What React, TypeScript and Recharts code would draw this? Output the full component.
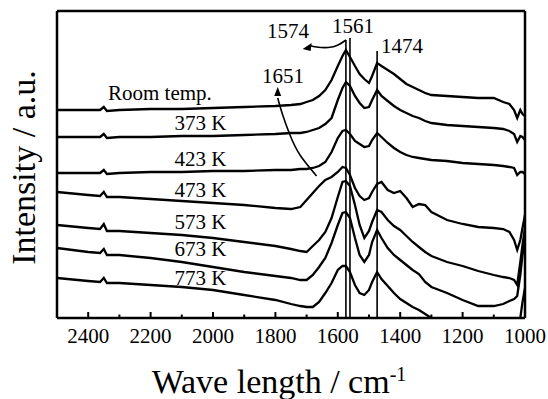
import React from 'react';
import { LineChart, Line, XAxis, YAxis, ReferenceLine, ReferenceDot } from 'recharts';

// Wavenumber grid (cm-1)
const wavenumbers = [2500, 2400, 2362, 2350, 2340, 2300, 2200, 2100, 2000, 1900, 1800, 1750, 1720, 1700, 1680, 1660, 1640, 1620, 1600, 1585, 1574, 1561, 1545, 1530, 1515, 1500, 1490, 1474, 1460, 1440, 1420, 1400, 1380, 1360, 1340, 1320, 1300, 1250, 1200, 1150, 1100, 1070, 1050, 1035, 1025, 1015, 1008, 1000];

// Offset intensities (a.u.)
const roomTemp = [208, 208, 208, 211, 207, 208, 209, 209, 210, 211, 212, 213, 214, 216, 218, 222, 228, 238, 252, 262, 268, 261, 252, 244, 239, 235, 242, 255, 252, 248, 244, 239, 234, 231, 228, 225, 223, 222, 221, 220, 220, 216, 214, 208, 200, 208, 204, 202];
const k373 = [181, 181, 181, 184, 180, 181, 181, 182, 182, 183, 184, 185, 185, 186, 188, 190, 194, 200, 218, 230, 236, 232, 222, 215, 210, 211, 218, 228, 222, 217, 212, 208, 205, 202, 200, 197, 195, 193, 192, 191, 190, 189, 187, 184, 176, 182, 181, 178];
const k423 = [145, 145, 145, 148, 144, 145, 146, 146, 147, 147, 148, 148, 149, 149, 150, 152, 156, 166, 180, 187, 188, 184, 177, 174, 171, 172, 178, 185, 181, 175, 170, 166, 163, 161, 160, 159, 158, 157, 155, 154, 153, 152, 151, 150, 143, 146, 146, 144];
const k473 = [126, 123, 122, 126, 121, 121, 119, 117, 115, 113, 110, 109, 111, 118, 125, 132, 138, 141, 146, 151, 150, 143, 130, 122, 118, 120, 126, 134, 136, 128, 125, 127, 120, 111, 114, 113, 106, 98, 94, 91, 90, 89, 86, 78, 68, 78, 90, 103];
const k573 = [93, 90, 89, 94, 87, 87, 85, 83, 80, 76, 72, 69, 67, 66, 72, 78, 86, 100, 121, 136, 137, 132, 113, 93, 80, 87, 96, 108, 106, 98, 92, 88, 82, 76, 71, 66, 62, 56, 52, 47, 43, 41, 40, 38, 33, 56, 73, 90];
const k673 = [70, 66, 65, 69, 63, 63, 60, 56, 51, 46, 42, 40, 38, 38, 43, 51, 60, 75, 93, 105, 106, 100, 80, 63, 56, 63, 76, 88, 80, 70, 63, 58, 53, 48, 44, 36, 31, 25, 18, 12, 12, 14, 17, 19, 22, 43, 63, 78];
const k773 = [40, 37, 36, 40, 35, 35, 33, 31, 28, 23, 18, 14, 12, 11, 11, 16, 25, 35, 48, 52, 52, 46, 33, 25, 23, 28, 36, 46, 39, 32, 25, 19, 15, 11, 8, 4, 0, -8, -14, -18, -20, -20, -19, -17, -12, 0, 16, 30];

const seriesValues = [roomTemp, k373, k423, k473, k573, k673, k773];
const seriesNames = ['Room temp.', '373 K', '423 K', '473 K', '573 K', '673 K', '773 K'];

// Label anchor (wavenumber, intensity) for each series name
const seriesLabelWn = [2170, 2040, 2040, 2040, 2040, 2040, 2040];
const seriesLabelY = [218, 188, 152, 121, 89, 62, 33];

// Peak marker lines
const peakWn = [1574, 1561, 1474];
const peakTop = [278, 280, 267];
const peakLabels = ['1574', '1561', '1474', '1651'];
const peakLabelWn = [1760, 1551, 1394, 1776];
const peakLabelY = [280, 285, 265, 235];

// Arrow paths
const arrow1574 = [
  { wn: 1573.7, v: 278 },
  { wn: 1599, v: 273 },
  { wn: 1631, v: 270.5 },
  { wn: 1668, v: 271 },
  { wn: 1690, v: 272.5 },
];
const arrow1651 = [
  { wn: 1792.6, v: 220 },
  { wn: 1776.6, v: 203 },
  { wn: 1753.2, v: 183 },
  { wn: 1721.2, v: 163 },
  { wn: 1668, v: 142 },
];

const majorTicks = [2400, 2200, 2000, 1800, 1600, 1400, 1200, 1000];
const minorTicks = [2300, 2100, 1900, 1700, 1500, 1300, 1100];
const allTicks = [...majorTicks, ...minorTicks].sort((a, b) => b - a);

const data = wavenumbers.map((wn, i) => {
  const row: Record<string, number> = { wn };
  seriesValues.forEach((s, j) => {
    row['s' + j] = s[i];
  });
  return row;
});

const FONT = "'Liberation Serif', 'Times New Roman', serif";
const fontStyle = { fontFamily: FONT };

const AxisTick = (props: any) => {
  const { x, y, payload } = props;
  const major = majorTicks.includes(payload.value);
  return (
    <g>
      <line x1={x} x2={x} y1={y} y2={y - (major ? 6 : 3.5)} stroke="#000" strokeWidth={2} />
      {major && (
        <text x={x} y={y + 25} textAnchor="middle" fontFamily={FONT} style={fontStyle} fontSize={21} fill="#000">
          {payload.value}
        </text>
      )}
    </g>
  );
};

const textShape = (txt: string, size: number) => (p: any) => (
  <text x={p.cx} y={p.cy} textAnchor="middle" fontFamily={FONT} style={fontStyle} fontSize={size} fill="#000">
    {txt}
  </text>
);

const headUp = (p: any) => (
  <polygon points={`${p.cx},${p.cy - 5} ${p.cx - 3.5},${p.cy + 4} ${p.cx + 3.5},${p.cy + 4}`} fill="#000" />
);
const headLeft = (p: any) => (
  <polygon points={`${p.cx - 4},${p.cy + 3} ${p.cx + 5},${p.cy - 3} ${p.cx + 4},${p.cy + 5}`} fill="#000" />
);

const Titles = (props: any) => {
  const vb = props.viewBox || { x: 57, y: 318, width: 468, height: 30 };
  const cx = vb.x + vb.width / 2 - 12;
  const plotTop = 11;
  const cy = (plotTop + vb.y) / 2 + 3;
  return (
    <g>
      <text x={cx} y={393} textAnchor="middle" fontFamily={FONT} style={fontStyle} fontSize={34} fill="#000">
        Wave length / cm<tspan dy={-12} fontSize={20}>-1</tspan>
      </text>
      <text
        x={35}
        y={cy}
        transform={`rotate(-90, 35, ${cy})`}
        textAnchor="middle"
        fontFamily={FONT}
        style={fontStyle}
        fontSize={34}
        fill="#000"
      >
        Intensity / a.u.
      </text>
    </g>
  );
};

export default function App() {
  return (
    <div style={{ position: 'absolute', left: 0, top: 0, width: 548, height: 399, background: '#fff' }}>
      <LineChart width={548} height={399} data={data} margin={{ top: 11, right: 23, bottom: 51, left: 57 }}>
        <XAxis
          dataKey="wn"
          type="number"
          domain={[1000, 2500]}
          reversed
          allowDataOverflow
          ticks={allTicks}
          interval={0}
          tick={<AxisTick />}
          tickLine={false}
          axisLine={false}
          tickSize={0}
          tickMargin={0}
          height={30}
          label={Titles}
        />
        <YAxis
          type="number"
          domain={[0, 307]}
          allowDataOverflow
          width={0}
          tick={false}
          tickLine={false}
          axisLine={false}
        />
        {seriesValues.map((_, j) => (
          <Line
            key={j}
            dataKey={'s' + j}
            name={seriesNames[j]}
            stroke="#000"
            strokeWidth={2.3}
            dot={false}
            type="linear"
            isAnimationActive={false}
          />
        ))}
        {peakWn.map((wn, i) => (
          <ReferenceLine
            key={'p' + i}
            segment={[{ x: wn, y: 0 }, { x: wn, y: peakTop[i] }]}
            stroke="#000"
            strokeWidth={1.6}
          />
        ))}
        <Line data={arrow1574} dataKey="v" stroke="#000" strokeWidth={1.6} dot={false} type="natural" isAnimationActive={false} />
        <Line data={arrow1651} dataKey="v" stroke="#000" strokeWidth={1.6} dot={false} type="natural" isAnimationActive={false} />
        <ReferenceDot x={1700} y={272} r={0} shape={headLeft} />
        <ReferenceDot x={1792.6} y={226} r={0} shape={headUp} />
        {seriesNames.map((n, j) => (
          <ReferenceDot key={'l' + j} x={seriesLabelWn[j]} y={seriesLabelY[j]} r={0} shape={textShape(n, 21)} />
        ))}
        {peakLabels.map((n, j) => (
          <ReferenceDot key={'pl' + j} x={peakLabelWn[j]} y={peakLabelY[j]} r={0} shape={textShape(n, 21)} />
        ))}
        <ReferenceLine x={2500} stroke="#000" strokeWidth={2.5} />
        <ReferenceLine x={1000} stroke="#000" strokeWidth={2.5} />
        <ReferenceLine y={0} stroke="#000" strokeWidth={2.5} />
        <ReferenceLine y={307} stroke="#000" strokeWidth={2.5} />
      </LineChart>
    </div>
  );
}
